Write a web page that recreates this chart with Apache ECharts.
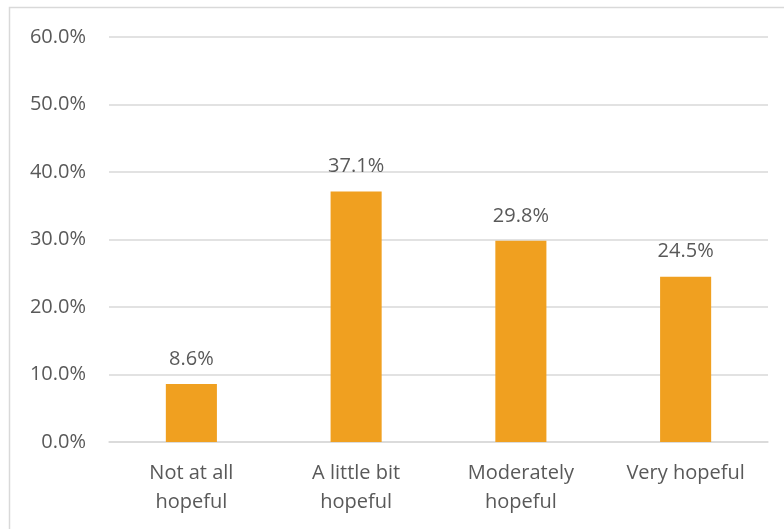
<!DOCTYPE html>
<html>
<head>
<meta charset="utf-8">
<script src="https://cdn.jsdelivr.net/npm/echarts@6/dist/echarts.min.js"></script>
<style>
  html, body { margin: 0; padding: 0; background: #fff; }
  #chart { width: 784px; height: 529px; }
</style>
</head>
<body>
<div id="chart"></div>
<script>
// Share of respondents by level of hopefulness
const categories = ['Not at all\nhopeful', 'A little bit\nhopeful', 'Moderately\nhopeful', 'Very hopeful'];
const shares = [8.6, 37.1, 29.8, 24.5];

const textColor = '#595959';
const gridColor = '#d9d9d9';
const barColor = '#f0a020';
const fontFamily = '"Open Sans", "Liberation Sans", sans-serif';

const chart = echarts.init(document.getElementById('chart'), null, { renderer: 'canvas' });

chart.setOption({
  animation: false,
  backgroundColor: '#fff',
  graphic: [{
    type: 'rect',
    shape: { x: 9.5, y: 7.5, width: 900, height: 700 },
    style: { fill: 'none', stroke: gridColor, lineWidth: 1.5 },
    silent: true
  }],
  grid: { left: 109, right: 16, top: 37, bottom: 87, containLabel: false },
  xAxis: {
    type: 'category',
    data: categories,
    axisLine: { show: true, lineStyle: { color: gridColor, width: 1.5 } },
    axisTick: { show: false },
    axisLabel: {
      color: textColor, fontSize: 20, fontFamily: fontFamily,
      lineHeight: 29, margin: 17, interval: 0
    }
  },
  yAxis: {
    type: 'value',
    min: 0, max: 60, interval: 10,
    axisLine: { show: false },
    axisTick: { show: false },
    splitLine: { lineStyle: { color: gridColor, width: 1.5 } },
    axisLabel: {
      color: textColor, fontSize: 20, fontFamily: fontFamily, margin: 23,
      formatter: v => v.toFixed(1) + '%'
    }
  },
  series: [{
    type: 'bar',
    data: shares,
    barWidth: '31%',
    itemStyle: { color: barColor },
    label: {
      show: true, position: 'top', distance: 15,
      color: textColor, fontSize: 20, fontFamily: fontFamily,
      formatter: p => p.value.toFixed(1) + '%'
    }
  }]
});
</script>
</body>
</html>
